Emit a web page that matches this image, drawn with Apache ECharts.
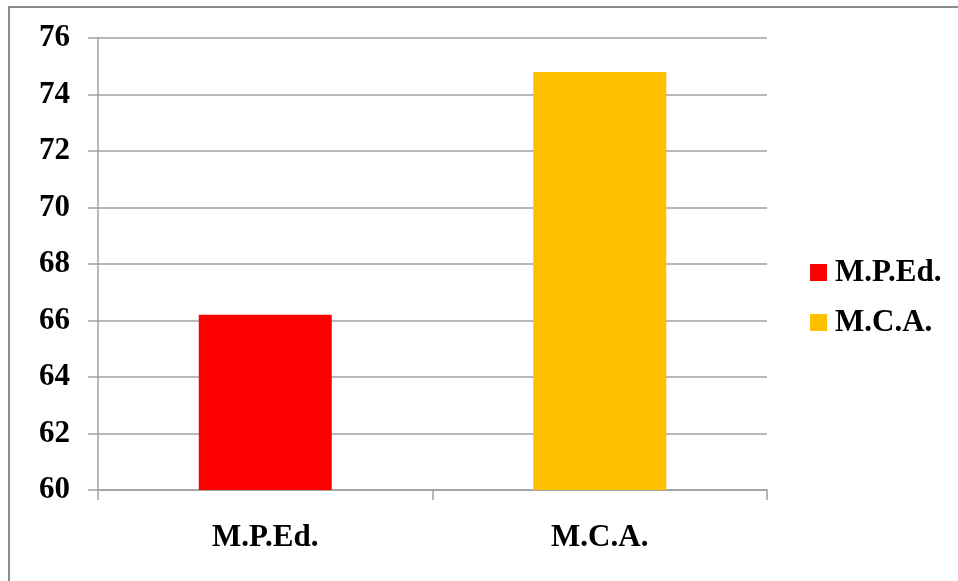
<!DOCTYPE html>
<html>
<head>
<meta charset="utf-8">
<script src="https://cdn.jsdelivr.net/npm/echarts@6/dist/echarts.min.js"></script>
<style>html,body{margin:0;padding:0;background:#fff}#c{width:958px;height:581px}</style>
</head>
<body>
<div id="c"></div>
<script>
const categories = ['M.P.Ed.', 'M.C.A.'];
const seriesNames = ['M.P.Ed.', 'M.C.A.'];
const mpedValues = [66.2, '-'];
const mcaValues = ['-', 74.8];
const colors = ['#FF0000', '#FFC000'];

const font = 'Liberation Serif';
const chart = echarts.init(document.getElementById('c'));
chart.setOption({
  animation: false,
  backgroundColor: '#ffffff',
  graphic: [{
    type: 'rect', silent: true,
    shape: { x: 9, y: 7, width: 1200, height: 1000 },
    style: { fill: 'none', stroke: '#8c8c8c', lineWidth: 2 }
  }],
  grid: { left: 98, right: 191, top: 38, bottom: 91, containLabel: false },
  legend: {
    orient: 'vertical', left: 810, top: 257, padding: 0,
    itemWidth: 17, itemHeight: 17, itemGap: 19,
    icon: 'rect',
    data: seriesNames,
    textStyle: { fontFamily: font, fontWeight: 'bold', fontSize: 31, color: '#000', padding: [0, 0, 0, 3] }
  },
  xAxis: {
    type: 'category', data: categories,
    axisLine: { lineStyle: { color: '#a0a0a0', width: 1.5 } },
    axisTick: { show: true, length: 10, lineStyle: { color: '#a0a0a0', width: 1.5 } },
    axisLabel: { fontFamily: font, fontWeight: 'bold', fontSize: 31, color: '#000', margin: 32 }
  },
  yAxis: {
    type: 'value', min: 60, max: 76, interval: 2,
    axisLine: { show: true, lineStyle: { color: '#a0a0a0', width: 1.5 } },
    axisTick: { show: true, length: 10, lineStyle: { color: '#a0a0a0', width: 1.5 } },
    splitLine: { show: true, lineStyle: { color: '#a0a0a0', width: 1.5 } },
    axisLabel: { fontFamily: font, fontWeight: 'bold', fontSize: 31, color: '#000', margin: 28 }
  },
  series: [
    { name: seriesNames[0], type: 'bar', stack: 'a', data: mpedValues, barWidth: 133, itemStyle: { color: colors[0] } },
    { name: seriesNames[1], type: 'bar', stack: 'a', data: mcaValues, barWidth: 133, itemStyle: { color: colors[1] } }
  ]
});
</script>
</body>
</html>
